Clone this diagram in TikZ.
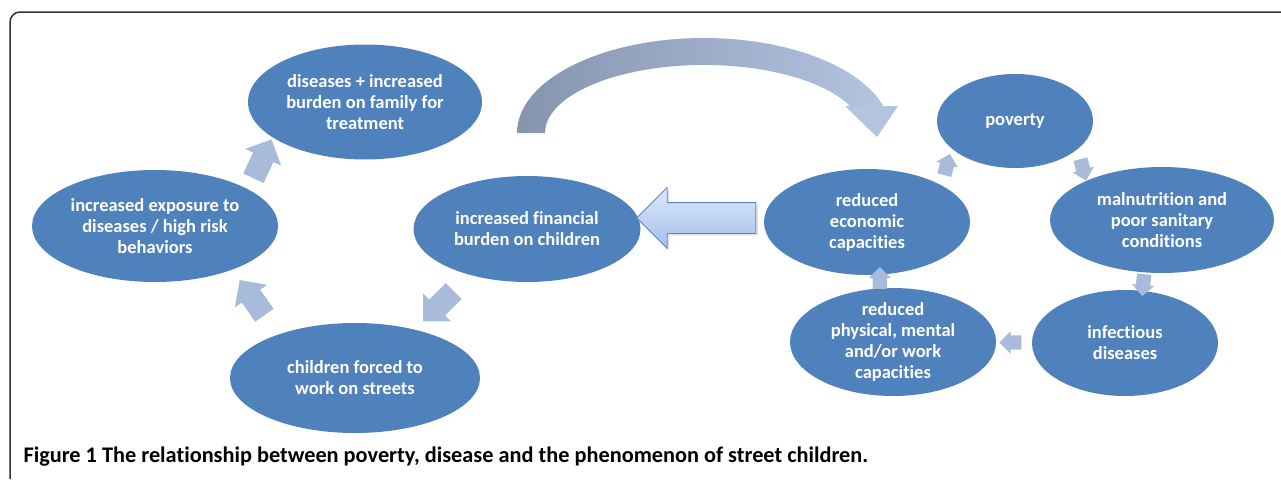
\documentclass[tikz,border=0pt]{standalone}
\usepackage{fontspec}
\setmainfont{Carlito}[Ligatures=NoCommon]
\usepackage{tikz}
\usetikzlibrary{shapes.geometric}
\usetikzlibrary{shapes.arrows}
\usetikzlibrary{shadows}
\definecolor{color_bubble}{HTML}{4F81BD}
\definecolor{color_step_arrow}{HTML}{A9BBDA}
\definecolor{color_bow_left}{HTML}{8595AE}
\definecolor{color_bow_right}{HTML}{B3C4E1}
\definecolor{color_back_top}{HTML}{DDE8F8}
\definecolor{color_back_bottom}{HTML}{A3C0EC}
\definecolor{color_back_border}{HTML}{5A86C6}
\definecolor{color_frame}{HTML}{333333}
\def\bubblefont{\bfseries\fontsize{18.5}{21}\selectfont}
\def\captionfont{\bfseries\fontsize{22.3}{25}\selectfont}
\tikzset{
    bubble/.style={ellipse, fill=color_bubble, text=white, align=center, inner sep=-10pt, font=\bubblefont},
    bigstep/.style={single arrow, fill=color_step_arrow, inner xsep=0pt, inner ysep=11pt, minimum height=43pt, single arrow head extend=8.5pt},
    smallstep/.style={single arrow, fill=color_step_arrow, inner xsep=0pt, inner ysep=7pt, minimum height=22pt, single arrow head extend=4pt}
}

\begin{document}
\begin{tikzpicture}[x=1pt,y=-1pt]
        \useasboundingbox (0,0) rectangle (1281,479);
        \draw[color_frame, line width=1.5pt, rounded corners=10pt] (10,479) -- (10,12) -- (1281,12);
        % street children cycle
        \node[bubble, minimum width=234pt, minimum height=115pt] (dis) at (365,102) {diseases + increased\\burden on family for\\treatment};
        \node[bubble, minimum width=246pt, minimum height=112pt] (expo) at (155,226) {increased exposure to\\diseases / high risk\\behaviors};
        \node[bubble, minimum width=227pt, minimum height=106pt] (fin) at (527,229) {increased financial\\burden on children};
        \node[bubble, minimum width=250pt, minimum height=110pt] (child) at (355,378) {children forced to\\work on streets};
        % poverty cycle
        \node[bubble, minimum width=156pt, minimum height=94pt] (pov) at (1015,121) {poverty};
        \node[bubble, minimum width=224pt, minimum height=106pt] (mal) at (1162,220) {malnutrition and\\poor sanitary\\conditions};
        \node[bubble, minimum width=206pt, minimum height=106pt] (eco) at (867,222) {reduced\\economic\\capacities};
        \node[bubble, minimum width=206pt, minimum height=108pt] (phys) at (893,342) {reduced\\physical, mental\\and/or work\\capacities};
        \node[bubble, minimum width=186pt, minimum height=106pt] (inf) at (1125,343) {infectious\\diseases};
        % steps between the bubbles
        \path (expo) -- node[bigstep, rotate=65] (s1) {} (dis);
        \path (fin) -- node[bigstep, rotate=225] (s2) {} (child);
        \path (child) -- node[bigstep, rotate=125] (s3) {} (expo);
        \path (eco) -- node[smallstep, rotate=75] (s4) {} (pov);
        \path (pov) -- node[smallstep, rotate=-75] (s5) {} (mal);
        \path (mal) -- node[smallstep, rotate=-95] (s6) {} (inf);
        \path (inf) -- node[smallstep, rotate=180] (s7) {} (phys);
        \path (phys) -- node[smallstep, rotate=90] (s8) {} (eco);
        % the bow over to poverty
        \shade[left color=color_bow_left, right color=color_bow_right]
            (517,133) arc[start angle=180, end angle=345, x radius=187, y radius=95]
            -- (857.6,115.4) arc[start angle=345, end angle=180, x radius=159, y radius=68] -- cycle;
        \fill[color_bow_right] (845,106) -- (898,106) -- (877,137) -- cycle;
        % hollow arrow back to the children
        \node[single arrow, shape border rotate=180, minimum height=119pt, inner xsep=0pt, inner ysep=15pt, single arrow head extend=15pt,
              top color=color_back_top, bottom color=color_back_bottom, draw=color_back_border, line width=0.8pt,
              drop shadow={opacity=0.25, shadow xshift=2pt, shadow yshift=-2pt}] (back) at (704,218) {};
        \node[anchor=base west, font=\captionfont] (caption) at (20,462) {Figure 1 The relationship between poverty, disease and the phenomenon of street children.};
    \end{tikzpicture}
\end{document}
